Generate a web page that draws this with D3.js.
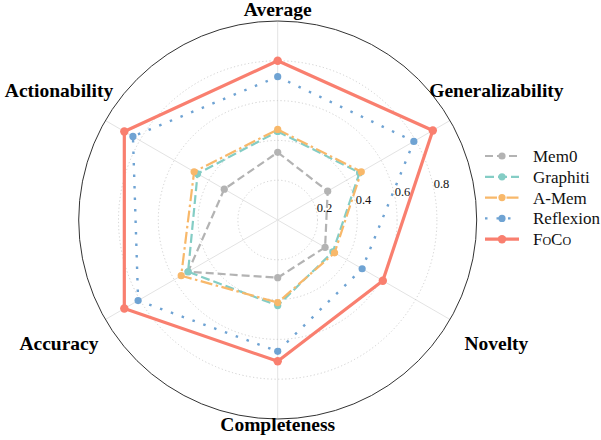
<!DOCTYPE html>
<html>
<head>
<meta charset="utf-8">
<script src="https://cdn.jsdelivr.net/npm/d3@7/dist/d3.min.js"></script>
<style>
  html, body { margin: 0; padding: 0; background: #fff; }
  svg { display: block; }
</style>
</head>
<body>
<svg id="chart" width="601" height="440"></svg>
<script>
// Radar chart of six evaluation dimensions for five memory methods
const dimensions = ["Average", "Generalizability", "Novelty", "Completeness", "Accuracy", "Actionability"];
const methods = ["Mem0", "Graphiti", "A-Mem", "Reflexion", "FoCo"];
const mem0 = [0.34, 0.29, 0.275, 0.29, 0.52, 0.31];
const graphiti = [0.445, 0.475, 0.32, 0.43, 0.52, 0.465];
const amem = [0.455, 0.485, 0.33, 0.415, 0.56, 0.485];
const reflexion = [0.72, 0.79, 0.49, 0.66, 0.81, 0.84];
const foco = [0.80, 0.90, 0.61, 0.71, 0.89, 0.89];
const radialTicks = [0.2, 0.4, 0.6, 0.8];

const seriesValues = [mem0, graphiti, amem, reflexion, foco];
const styles = [
  { color: "#b3b3b3", width: 2.2, dash: "8 4", r: 3.6 },
  { color: "#84cdc5", width: 2.2, dash: "9 4", r: 3.6 },
  { color: "#f8b86a", width: 2.2, dash: "12 3.5 2.5 3.5", r: 3.6 },
  { color: "#6fa3d3", width: 2.4, dash: "2.5 9", r: 3.6 },
  { color: "#f97f6f", width: 3.2, dash: null, r: 4.2 }
];

const svg = d3.select("#chart");
const cx = 277.7, cy = 220, R = 199;
const serif = "'Liberation Serif', 'Times New Roman', Times, serif";

const r = d3.scaleLinear().domain([0, 1]).range([0, R]);
const angle = d3.scalePoint().domain(dimensions).range([0, 2 * Math.PI * (dimensions.length - 1) / dimensions.length]);

const g = svg.append("g").attr("transform", `translate(${cx},${cy})`);

// spokes
g.selectAll("line.spoke")
  .data(dimensions)
  .join("line")
  .attr("class", "spoke")
  .attr("x1", 0).attr("y1", 0)
  .attr("x2", d => r(1) * Math.sin(angle(d)))
  .attr("y2", d => -r(1) * Math.cos(angle(d)))
  .attr("stroke", "#e3e3e3")
  .attr("stroke-width", 1);

// dotted grid rings
g.selectAll("circle.ring")
  .data(radialTicks)
  .join("circle")
  .attr("class", "ring")
  .attr("r", d => r(d))
  .attr("fill", "none")
  .attr("stroke", "#c4c4c4")
  .attr("stroke-width", 0.8)
  .attr("stroke-dasharray", "1.2 2.4");

// outer frame
g.append("circle")
  .attr("r", r(1))
  .attr("fill", "none")
  .attr("stroke", "#333")
  .attr("stroke-width", 1);

// radial tick labels
const tickAngle = 78.5 * Math.PI / 180;
g.selectAll("text.rtick")
  .data(radialTicks)
  .join("text")
  .attr("class", "rtick")
  .attr("x", d => r(d) * Math.sin(tickAngle))
  .attr("y", d => -r(d) * Math.cos(tickAngle))
  .attr("text-anchor", "start")
  .attr("font-family", serif)
  .attr("font-size", 12.5)
  .attr("fill", "#111")
  .text(d => d3.format(".1f")(d));

// series
const line = d3.lineRadial()
  .angle((d, i) => angle(dimensions[i]))
  .radius(d => r(d))
  .curve(d3.curveLinearClosed);

seriesValues.forEach((vals, k) => {
  const s = styles[k];
  const sg = g.append("g").attr("class", "series");
  sg.append("path")
    .datum(vals)
    .attr("d", line)
    .attr("fill", "none")
    .attr("stroke", s.color)
    .attr("stroke-width", s.width)
    .attr("stroke-linejoin", "round")
    .attr("stroke-dasharray", s.dash);
  sg.selectAll("circle")
    .data(vals)
    .join("circle")
    .attr("cx", (d, i) => r(d) * Math.sin(angle(dimensions[i])))
    .attr("cy", (d, i) => -r(d) * Math.cos(angle(dimensions[i])))
    .attr("r", s.r)
    .attr("fill", s.color);
});

// dimension labels, pushed further out on the diagonals
const labelRadius = a => R + 8.5 + Math.abs(Math.sin(a)) * 52;
g.selectAll("text.dim")
  .data(dimensions)
  .join("text")
  .attr("class", "dim")
  .attr("x", d => labelRadius(angle(d)) * Math.sin(angle(d)))
  .attr("y", d => -labelRadius(angle(d)) * Math.cos(angle(d)) + 3.5)
  .attr("text-anchor", "middle")
  .attr("font-family", serif)
  .attr("font-weight", "bold")
  .attr("font-size", 19.5)
  .attr("fill", "#000")
  .text(d => d);

// legend
const legend = svg.append("g").attr("transform", "translate(485,156)");
const rowStep = 20.8;
methods.forEach((name, k) => {
  const s = styles[k];
  const row = legend.append("g").attr("transform", `translate(0,${k * rowStep})`);
  row.append("line")
    .attr("x1", 0).attr("x2", 34)
    .attr("y1", 0).attr("y2", 0)
    .attr("stroke", s.color)
    .attr("stroke-width", s.width)
    .attr("stroke-dasharray", s.dash);
  row.append("circle")
    .attr("cx", 17).attr("cy", 0)
    .attr("r", s.r)
    .attr("fill", s.color);
  row.append("text")
    .attr("x", 48).attr("y", 6)
    .attr("font-family", serif)
    .attr("font-size", 17)
    .attr("fill", "#111")
    .style("font-variant", name === "FoCo" ? "small-caps" : "normal")
    .text(name);
});
</script>
</body>
</html>
